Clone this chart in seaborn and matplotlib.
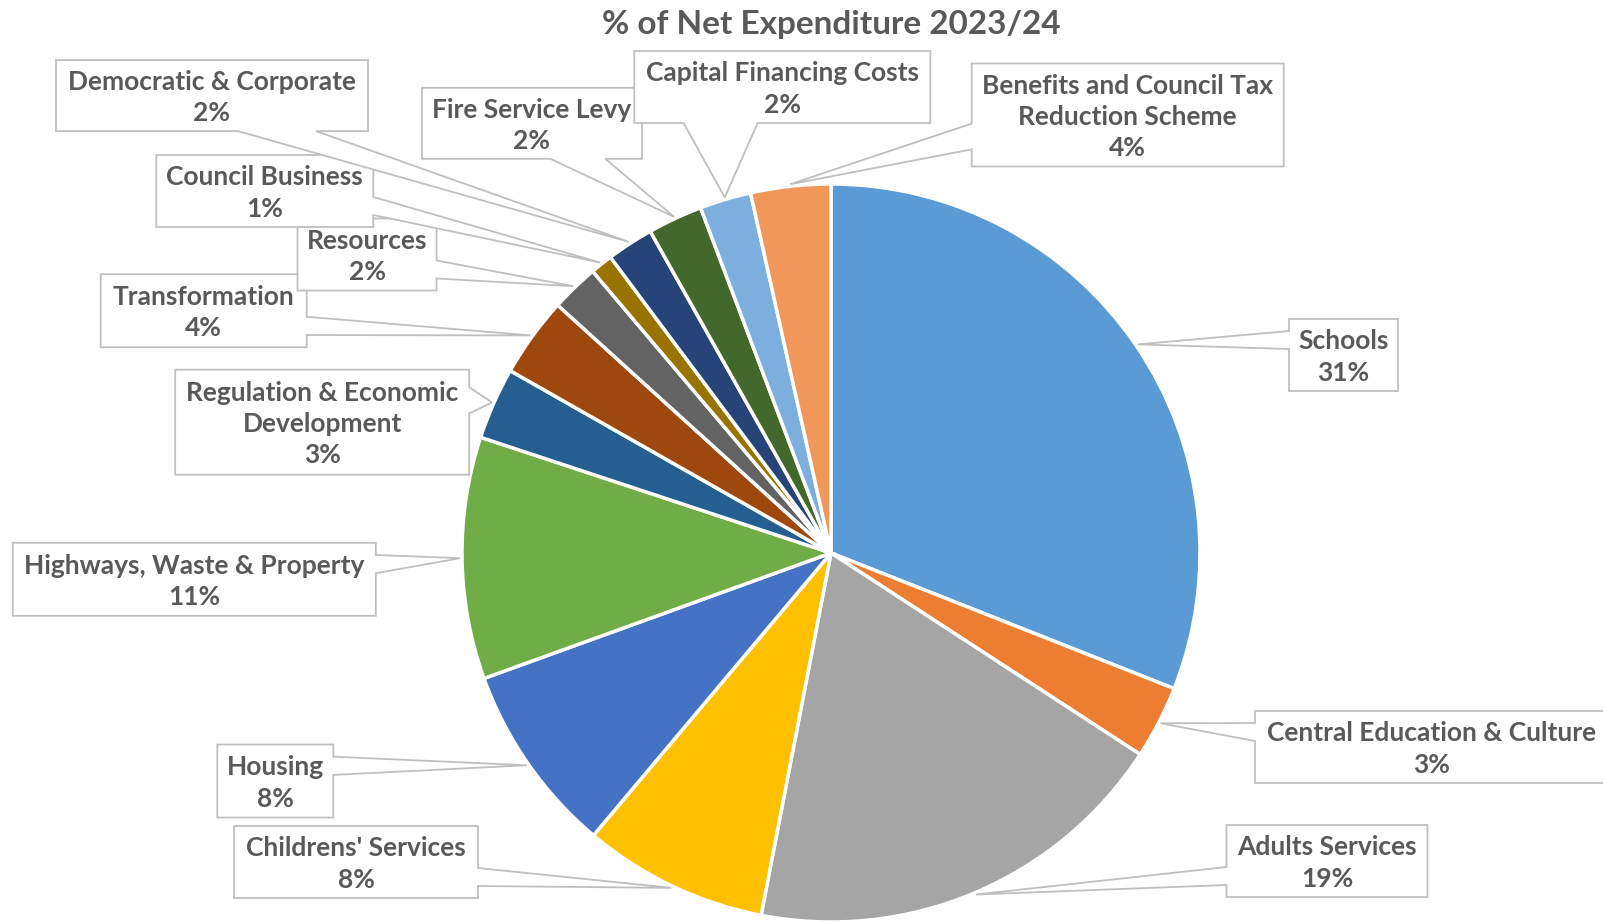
import matplotlib
matplotlib.use("Agg")
import matplotlib.pyplot as plt
from matplotlib.patches import Polygon
import numpy as np
import seaborn as sns

# Net expenditure shares, clockwise from 12 o'clock
services = ["Schools", "Central Education & Culture", "Adults Services",
            "Childrens' Services", "Housing", "Highways, Waste & Property",
            "Regulation & Economic\nDevelopment", "Transformation", "Resources",
            "Council Business", "Democratic & Corporate", "Fire Service Levy",
            "Capital Financing Costs", "Benefits and Council Tax\nReduction Scheme"]
share = [31.0, 3.2, 18.85, 8.1, 8.35, 10.6, 3.15, 3.5, 2.1, 0.98, 2.05, 2.4, 2.25, 3.5]
shown_pct = [31, 3, 19, 8, 8, 11, 3, 4, 2, 1, 2, 2, 2, 4]
colors = ["#5B9BD5", "#ED7D31", "#A5A5A5", "#FFC000", "#4472C4", "#70AD47",
          "#255E91", "#9E480E", "#636363", "#997300", "#264478", "#43682B",
          "#7CAFDD", "#F1975A"]

# label box layout in pixels (centre x, centre y, width, height), y measured from top
boxes = [(1343.5, 355, 109, 72), (1431.5, 747, 353, 72), (1327, 861, 201, 72),
         (356, 862, 244, 72), (275.3, 781, 116, 73), (194.3, 579.3, 363, 73),
         (322.2, 422.2, 294, 105), (203.7, 310.7, 206, 73), (367, 254.5, 139, 72),
         (264.8, 191, 217, 72), (212, 95.6, 312, 71), (532, 123.3, 220, 71),
         (782.3, 87, 296, 72), (1127.7, 115, 312, 103)]

W, H = 1603, 922
CX, CY, R = 831, 553, 369
TEXT = "#595959"
EDGE = "#BFBFBF"

sns.set_theme(style="white")
plt.rcParams["font.family"] = ["Lato", "DejaVu Sans"]

fig = plt.figure(figsize=(W / 100, H / 100), dpi=100)
ax = fig.add_axes([0, 0, 1, 1])

wedges, _ = ax.pie(share, colors=sns.color_palette(colors), startangle=90,
                   counterclock=False, center=(CX, H - CY), radius=R,
                   wedgeprops=dict(edgecolor="white", linewidth=2.5))
ax.set_aspect("auto")
ax.set_xlim(0, W)
ax.set_ylim(0, H)
ax.axis("off")


def callout_poly(box, tip):
    # rectangle with a wedge pointer, like the Excel callout shape
    cx, cy, w, h = box
    x0, x1, y0, y1 = cx - w / 2, cx + w / 2, cy - h / 2, cy + h / 2
    tx, ty = tip
    dxn, dyn = (tx - cx) / w, (ty - cy) / h
    pts = [(x0, y0), (x1, y0)]
    if abs(dxn) > abs(dyn):
        if ty < cy:
            ya, yb = y0 + h * 2 / 12, y0 + h * 5 / 12
        else:
            ya, yb = y0 + h * 7 / 12, y0 + h * 10 / 12
        if tx > cx:
            pts += [(x1, ya), tip, (x1, yb), (x1, y1), (x0, y1)]
        else:
            pts += [(x1, y1), (x0, y1), (x0, yb), tip, (x0, ya)]
    else:
        if tx < cx:
            xa, xb = x0 + w * 2 / 12, x0 + w * 5 / 12
        else:
            xa, xb = x0 + w * 7 / 12, x0 + w * 10 / 12
        if ty > cy:
            pts += [(x1, y1), (xb, y1), tip, (xa, y1), (x0, y1)]
        else:
            pts = [(x0, y0), (xa, y0), tip, (xb, y0), (x1, y0), (x1, y1), (x0, y1)]
    return [(px, H - py) for px, py in pts]


for i, (wdg, name, pct, box) in enumerate(zip(wedges, services, shown_pct, boxes)):
    mid = np.deg2rad((wdg.theta1 + wdg.theta2) / 2)
    tip = (CX + (R + 2) * np.cos(mid), CY - (R + 2) * np.sin(mid))
    poly = Polygon(callout_poly(box, tip), closed=True, facecolor="white",
                   edgecolor=EDGE, linewidth=1.3, zorder=10 + 2 * i)
    ax.add_patch(poly)
    ax.text(box[0], H - box[1] - 2, f"{name}\n{pct}%", ha="center", va="center",
            multialignment="center", fontsize=19, fontweight="bold",
            color=TEXT, linespacing=1.36, zorder=11 + 2 * i)

ax.text(CX, H - 34, "% of Net Expenditure 2023/24", ha="center", va="baseline",
        fontsize=24, fontweight="bold", color=TEXT)

fig.savefig("out.png", dpi=100, facecolor="white")
